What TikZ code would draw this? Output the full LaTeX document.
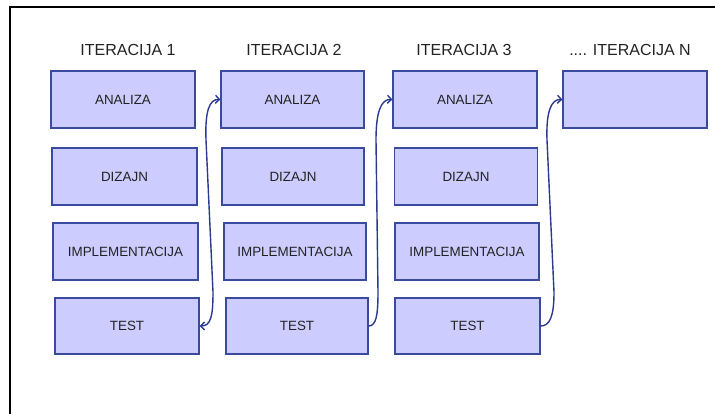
\documentclass[tikz,border=0pt]{standalone}
\usepackage{fontspec}
\setmainfont{Liberation Sans}
\usetikzlibrary{arrows.meta}
\definecolor{boxfill}{HTML}{CCCCFF}
\definecolor{boxline}{HTML}{3A4A9E}
\definecolor{arrowc}{HTML}{2B3A8F}
\definecolor{txt}{HTML}{222222}
\begin{document}
\begin{tikzpicture}[x=1pt,y=-1pt,
  phase/.style={draw=boxline, fill=boxfill, line width=1.2pt, minimum height=57pt, inner sep=0pt, text=txt, font=\fontsize{13.4}{15}\selectfont},
  title/.style={text=txt, font=\fontsize{16}{18}\selectfont, inner sep=0pt},
  flow/.style={draw=arrowc, line width=1.4pt, line cap=round},
  tip/.style={-{Straight Barb[length=4pt,width=8pt]}}
]
\useasboundingbox (0,0) rectangle (715,414);
\draw[line width=1.8pt] (10,414) -- (10,7) -- (715,7);

\node[title] (h1) at (128,50) {ITERACIJA 1};
\node[title] (h2) at (294,50) {ITERACIJA 2};
\node[title] (h3) at (464,50) {ITERACIJA 3};
\node[title] (h4) at (630,50) {.... ITERACIJA N};

\node[phase, minimum width=144pt] (a1) at (123,99.5) {ANALIZA};
\node[phase, minimum width=145pt] (d1) at (124.5,176.5) {DIZAJN};
\node[phase, minimum width=145pt] (i1) at (125.5,251.5) {IMPLEMENTACIJA};
\node[phase, minimum width=144pt, minimum height=56pt] (t1) at (127,326) {TEST};

\node[phase, minimum width=143pt] (a2) at (292.5,99.5) {ANALIZA};
\node[phase, minimum width=142pt] (d2) at (293,176.5) {DIZAJN};
\node[phase, minimum width=142pt] (i2) at (295,251.5) {IMPLEMENTACIJA};
\node[phase, minimum width=142pt, minimum height=56pt] (t2) at (297,326) {TEST};

\node[phase, minimum width=144pt] (a3) at (465,99.5) {ANALIZA};
\node[phase, minimum width=143pt] (d3) at (466,176.5) {DIZAJN};
\node[phase, minimum width=144pt] (i3) at (467,251.5) {IMPLEMENTACIJA};
\node[phase, minimum width=145pt, minimum height=56pt] (t3) at (467.5,326) {TEST};

\node[phase, minimum width=144pt] (a4) at (635,99.5) {};

\draw[flow, {Straight Barb[length=4pt,width=8pt]}-{Straight Barb[length=4pt,width=8pt]}]
  (t1.east) .. controls (211,326) and (213,316) .. (213,292)
  -- (206,140) .. controls (205,112) and (209,99) .. (a2.west);
\draw[flow, tip]
  (t2.east) .. controls (376,326) and (378,316) .. (378,292)
  -- (376,140) .. controls (376,112) and (381,99) .. (a3.west);
\draw[flow, tip]
  (t3.east) .. controls (550,326) and (554,316) .. (554,292)
  -- (547,140) .. controls (546,112) and (551,99) .. (a4.west);
\end{tikzpicture}
\end{document}
